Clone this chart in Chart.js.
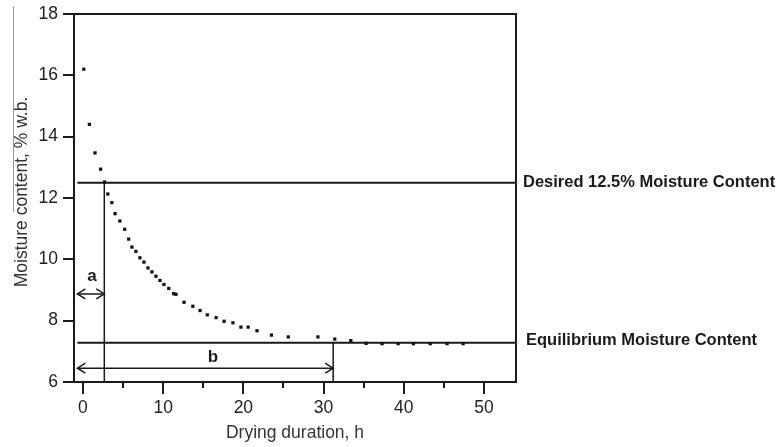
<!DOCTYPE html>
<html lang="en">
<head>
    <meta charset="utf-8">
    <title>Drying curve</title>
    <script src="https://cdn.jsdelivr.net/npm/chart.js@4.4.0/dist/chart.umd.min.js"></script>
    <style>
        body { margin: 0; background: #fff; }
    </style>
</head>
<body>
<canvas id="myChart" width="777" height="447"></canvas>

<script>
    // drying curve
    const dryTime = [0.1, 0.8, 1.5, 2.2, 2.7, 3.1, 3.6, 4.0, 4.6, 5.2, 5.7, 6.1, 6.6, 7.1, 7.6,
        8.1, 8.6, 9.1, 9.6, 10.1, 10.7, 11.3, 11.6, 12.6, 13.7, 14.6, 15.5, 16.6, 17.6, 18.7,
        19.7, 20.6, 21.7, 23.5, 25.6, 29.3, 31.4, 33.4, 35.3, 37.3, 39.3, 41.2, 43.3, 45.4, 47.4];
    const moisture = [16.2, 14.4, 13.47, 12.94, 12.52, 12.13, 11.85, 11.49, 11.25, 10.98, 10.66, 10.4, 10.26, 10.05, 9.91,
        9.72, 9.59, 9.45, 9.31, 9.18, 9.05, 8.88, 8.86, 8.6, 8.47, 8.33, 8.19, 8.1, 7.98, 7.93,
        7.79, 7.79, 7.67, 7.53, 7.47, 7.47, 7.4, 7.35, 7.26, 7.25, 7.25, 7.25, 7.25, 7.25, 7.25];

    const desiredMC = 12.5;
    const equilibriumMC = 7.28;
    const timeA = 2.66;     // time to reach 12.5 %
    const timeB = 31.2;     // time to reach equilibrium
    const lineStart = -0.7;
    const arrowAy = 8.87;
    const arrowBy = 6.45;

    const xTicks = [0, 10, 20, 30, 40, 50];
    const xMinorTicks = [5, 15, 25, 35, 45];
    const yTicks = [6, 8, 10, 12, 14, 16, 18];

    const xMin = -1.12, xMax = 54.0;
    const yMin = 6, yMax = 18;

    const labelDesired = "Desired 12.5% Moisture Content";
    const labelEquil = "Equilibrium Moisture Content";
    const xTitle = "Drying duration, h";
    const yTitle = "Moisture content, % w.b.";

    const ink = "#1a1a1a";
    const fontName = "'Liberation Sans', Arial, sans-serif";

    let seg = (x1, y1, x2, y2) => [{x: x1, y: y1}, {x: x2, y: y2}];
    let lineSet = (data, w) => ({
        data: data, showLine: true, borderColor: ink, borderWidth: w,
        pointRadius: 0, fill: false, clip: false
    });

    let decor = {
        id: 'decor',
        afterDraw(chart) {
            const ctx = chart.ctx;
            const xs = chart.scales.x, ys = chart.scales.y;
            const a = chart.chartArea;
            ctx.save();
            ctx.strokeStyle = ink;
            ctx.lineWidth = 2;
            // frame
            ctx.beginPath();
            ctx.moveTo(a.left, a.top); ctx.lineTo(a.right, a.top);
            ctx.lineTo(a.right, a.bottom); ctx.lineTo(a.left, a.bottom);
            ctx.closePath();
            ctx.stroke();
            // ticks
            ctx.beginPath();
            yTicks.forEach(v => {
                let p = Math.round(ys.getPixelForValue(v));
                ctx.moveTo(a.left - 11, p); ctx.lineTo(a.left, p);
            });
            xTicks.forEach(v => {
                let p = Math.round(xs.getPixelForValue(v));
                ctx.moveTo(p, a.bottom); ctx.lineTo(p, a.bottom + 12);
            });
            xMinorTicks.forEach(v => {
                let p = Math.round(xs.getPixelForValue(v));
                ctx.moveTo(p, a.bottom); ctx.lineTo(p, a.bottom + 6);
            });
            ctx.stroke();

            // arrow heads
            ctx.lineWidth = 1.5;
            let head = (x, y, dir) => {
                ctx.beginPath();
                ctx.moveTo(x - dir * 8, y - 5);
                ctx.lineTo(x, y);
                ctx.lineTo(x - dir * 8, y + 5);
                ctx.stroke();
            };
            let ya = ys.getPixelForValue(arrowAy), yb = ys.getPixelForValue(arrowBy);
            head(xs.getPixelForValue(lineStart), ya, -1);
            head(xs.getPixelForValue(timeA), ya, 1);
            head(xs.getPixelForValue(lineStart), yb, -1);
            head(xs.getPixelForValue(timeB), yb, 1);

            // letters a, b
            ctx.fillStyle = ink;
            ctx.font = "bold 17px " + fontName;
            ctx.textAlign = "center";
            ctx.textBaseline = "middle";
            ctx.fillText("a", xs.getPixelForValue(1.12), ys.getPixelForValue(9.46));
            ctx.fillText("b", xs.getPixelForValue(16.2), ys.getPixelForValue(6.82));

            // line labels on the right
            ctx.font = "bold 16.5px " + fontName;
            ctx.textAlign = "left";
            ctx.fillText(labelDesired, a.right + 7, ys.getPixelForValue(desiredMC));
            ctx.fillText(labelEquil, a.right + 10, ys.getPixelForValue(equilibriumMC) - 2);

            // axis titles
            ctx.fillStyle = "#333";
            ctx.font = "17.5px " + fontName;
            ctx.textAlign = "center";
            ctx.fillText(xTitle, 295, 433);
            ctx.save();
            ctx.translate(22, 192);
            ctx.rotate(-Math.PI / 2);
            ctx.fillText(yTitle, 0, 0);
            ctx.restore();

            // faint scan line at top left
            ctx.strokeStyle = "#999";
            ctx.lineWidth = 1;
            ctx.beginPath();
            ctx.moveTo(13.5, 6); ctx.lineTo(13.5, 212);
            ctx.stroke();
            ctx.restore();
        }
    };

    let showChart = () => {
        let ctx = document.getElementById("myChart").getContext("2d");
        new Chart(ctx, {
            type: 'scatter',
            data: {
                datasets: [
                    {
                        label: "Moisture",
                        data: dryTime.map((t, i) => ({x: t, y: moisture[i]})),
                        pointStyle: 'rect',
                        pointRadius: 2.3,
                        pointBackgroundColor: "#111",
                        pointBorderWidth: 0,
                        showLine: false,
                        clip: false
                    },
                    lineSet(seg(lineStart, desiredMC, xMax, desiredMC), 2),
                    lineSet(seg(lineStart, equilibriumMC, xMax, equilibriumMC), 2),
                    lineSet(seg(timeA, desiredMC, timeA, yMin), 1.5),
                    lineSet(seg(timeB, equilibriumMC, timeB, yMin), 1.5),
                    lineSet(seg(lineStart, arrowAy, timeA, arrowAy), 1.5),
                    lineSet(seg(lineStart, arrowBy, timeB, arrowBy), 1.5)
                ]
            },
            options: {
                responsive: false,
                animation: false,
                devicePixelRatio: 1,
                layout: {padding: {left: 0, right: 261, top: 14, bottom: 0}},
                plugins: {legend: {display: false}, tooltip: {enabled: false}},
                scales: {
                    x: {
                        type: 'linear', min: xMin, max: xMax,
                        grid: {display: false, drawTicks: false},
                        border: {display: false},
                        afterBuildTicks: s => { s.ticks = xTicks.map(v => ({value: v})); },
                        afterFit: s => {
                            s.height = 65;
                            s.paddingLeft = 0; s.paddingRight = 0;
                        },
                        ticks: {color: "#222", font: {family: fontName, size: 17.5}, padding: 16, maxRotation: 0}
                    },
                    y: {
                        type: 'linear', min: yMin, max: yMax,
                        grid: {display: false, drawTicks: false},
                        border: {display: false},
                        afterBuildTicks: s => { s.ticks = yTicks.map(v => ({value: v})); },
                        afterFit: s => {
                            s.width = 74;
                            s.paddingTop = 0; s.paddingBottom = 0;
                        },
                        ticks: {color: "#222", font: {family: fontName, size: 17.5}, padding: 16}
                    }
                }
            },
            plugins: [decor]
        });
    }

    showChart();
</script>
</body>
</html>
